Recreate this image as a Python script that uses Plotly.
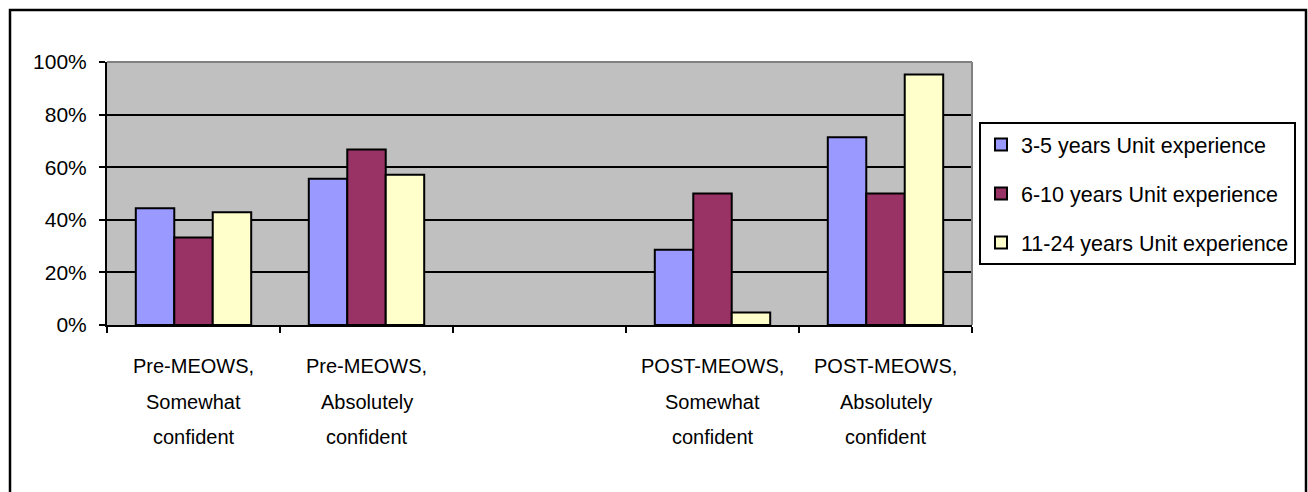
import plotly.graph_objects as go

# Category labels (one list of text lines per category; the blank slot is a spacer)
category_lines = [
    ["Pre-MEOWS,", "Somewhat", "confident"],
    ["Pre-MEOWS,", "Absolutely", "confident"],
    [],
    ["POST-MEOWS,", "Somewhat", "confident"],
    ["POST-MEOWS,", "Absolutely", "confident"],
]
categories = ["Pre-MEOWS, Somewhat confident", "Pre-MEOWS, Absolutely confident", " ",
              "POST-MEOWS, Somewhat confident", "POST-MEOWS, Absolutely confident"]

series_names = ["3-5 years Unit experience", "6-10 years Unit experience", "11-24 years Unit experience"]
years_3_5 = [0.444, 0.556, None, 0.286, 0.714]
years_6_10 = [0.333, 0.667, None, 0.500, 0.500]
years_11_24 = [0.429, 0.571, None, 0.048, 0.952]
series_values = [years_3_5, years_6_10, years_11_24]
series_colors = ["#9999FF", "#993366", "#FFFFCC"]

y_ticks = [0, 0.2, 0.4, 0.6, 0.8, 1.0]

# Page and plot-area geometry (pixels)
W, H = 1308, 492
PL, PR, PT, PB = 107, 972, 62, 325.5
FONT = "Liberation Sans, Arial, sans-serif"


def paper_x(px):
    return (px - PL) / (PR - PL)


def paper_y(py):
    return (PB - py) / (PB - PT)


fig = go.Figure()
for name, vals, color in zip(series_names, series_values, series_colors):
    fig.add_trace(go.Bar(
        name=name, x=categories, y=vals, legendgroup=name,
        marker=dict(color=color, line=dict(color="black", width=2)),
    ))

annotations = []
line_offsets = [41, 76.5, 112]
for cat, lines in zip(categories, category_lines):
    for text, off in zip(lines, line_offsets):
        annotations.append(dict(
            x=cat, xref="x", y=0, yref="paper", yshift=-off,
            text=text, showarrow=False, xanchor="center", yanchor="middle",
            font=dict(family=FONT, size=20, color="black"),
        ))

shapes = [
    # outer frame
    dict(type="rect", xref="paper", yref="paper",
         x0=paper_x(10), x1=paper_x(1306), y0=paper_y(10), y1=paper_y(600),
         line=dict(color="black", width=2.5), fillcolor="rgba(0,0,0,0)", layer="below"),
    # plot-area border, top and right
    dict(type="line", xref="paper", yref="paper", x0=0, x1=1, y0=1, y1=1,
         line=dict(color="#808080", width=2), layer="above"),
    dict(type="line", xref="paper", yref="paper", x0=1, x1=1, y0=0, y1=1,
         line=dict(color="#808080", width=2), layer="above"),
]

fig.update_layout(
    width=W, height=H,
    margin=dict(l=PL, r=W - PR, t=PT, b=H - PB, pad=0, autoexpand=False),
    paper_bgcolor="white", plot_bgcolor="#C0C0C0",
    barmode="group", bargap=0.333, bargroupgap=0,
    font=dict(family=FONT, size=21, color="black"),
    xaxis=dict(
        type="category", categoryorder="array", categoryarray=categories,
        tickson="boundaries", ticks="outside", ticklen=6, tickwidth=1.5, tickcolor="black",
        showticklabels=False, showgrid=False,
        showline=True, linecolor="black", linewidth=2, range=[-0.5, 4.5],
    ),
    yaxis=dict(
        range=[0, 1], tickvals=y_ticks, tickformat=".0%",
        ticks="outside", ticklen=6, tickwidth=1.5, tickcolor="black",
        ticklabelstandoff=8,
        showgrid=True, gridcolor="black", gridwidth=1.6,
        showline=True, linecolor="black", linewidth=2, zeroline=False,
        tickfont=dict(family=FONT, size=21, color="black"),
    ),
    legend=dict(
        xref="container", yref="container",
        x=979 / W, y=1 - 122 / H, xanchor="left", yanchor="top",
        bgcolor="white", bordercolor="black", borderwidth=2,
        font=dict(family=FONT, size=21.5, color="black"),
        tracegroupgap=18, itemwidth=30,
    ),
    annotations=annotations,
    shapes=shapes,
)

fig.write_html("out.html")
